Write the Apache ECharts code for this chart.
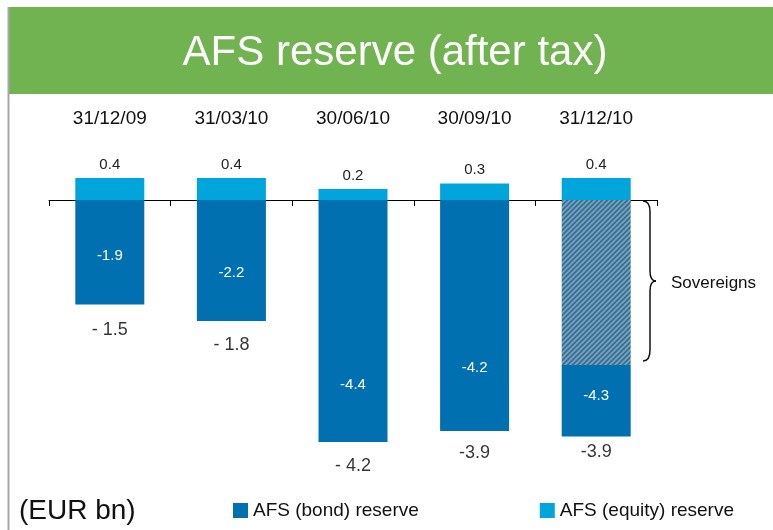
<!DOCTYPE html>
<html>
<head>
<meta charset="utf-8">
<title>AFS reserve (after tax)</title>
<script src="https://cdn.jsdelivr.net/npm/echarts@6/dist/echarts.min.js"></script>
<style>
  html, body { margin: 0; padding: 0; background: #fff; }
  #main { width: 773px; height: 530px; }
</style>
</head>
<body>
<div id="main"></div>
<script>
// values (EUR bn)
var categories = ['31/12/09', '31/03/10', '30/06/10', '30/09/10', '31/12/10'];
var equityReserve = [0.4, 0.4, 0.2, 0.3, 0.4];
var bondReserve = [-1.9, -2.2, -4.4, -4.2, -4.3];
var sovereignPart = [null, null, null, null, -3.0];
var netLabels = ['- 1.5', '- 1.8', '- 4.2', '-3.9', '-3.9'];

// label fine tuning (px), not data
var bondLabelShift = [4, 12, 64, 52, -5];
var netLabelGap = [17, 15, 15, 13, 7];

var FONT = 'Liberation Sans';
var BOND = '#0070B0';
var EQUITY = '#00A6DB';

// hatch for the sovereign part
function hatch() {
  var c = document.createElement('canvas');
  c.width = 5; c.height = 5;
  var ctx = c.getContext('2d');
  ctx.fillStyle = '#1a78b4';
  ctx.fillRect(0, 0, 5, 5);
  ctx.strokeStyle = '#9a9a9a';
  ctx.lineWidth = 1.6;
  ctx.beginPath();
  ctx.moveTo(0, 5); ctx.lineTo(5, 0);
  ctx.moveTo(-1, 1); ctx.lineTo(1, -1);
  ctx.moveTo(4, 6); ctx.lineTo(6, 4);
  ctx.stroke();
  return c;
}

// bond bar drawn below the sovereign slice where there is one
var bondRest = bondReserve.map(function (v, i) {
  return sovereignPart[i] == null ? v : +(v - sovereignPart[i]).toFixed(2);
});

// curly brace next to the last bar
var braceStyle = { stroke: '#111', lineWidth: 1.5, fill: null };
var brace = [
  { type: 'bezierCurve', shape: { x1: 643, y1: 201, cpx1: 650, cpy1: 201, x2: 650, y2: 212 } },
  { type: 'line', shape: { x1: 650, y1: 212, x2: 650, y2: 271 } },
  { type: 'bezierCurve', shape: { x1: 650, y1: 271, cpx1: 650, cpy1: 281, x2: 656, y2: 281 } },
  { type: 'bezierCurve', shape: { x1: 656, y1: 281, cpx1: 650, cpy1: 281, x2: 650, y2: 291 } },
  { type: 'line', shape: { x1: 650, y1: 291, x2: 650, y2: 350 } },
  { type: 'bezierCurve', shape: { x1: 650, y1: 350, cpx1: 650, cpy1: 361, x2: 643, y2: 361 } }
].map(function (el) { el.style = braceStyle; el.silent = true; return el; });

var chart = echarts.init(document.getElementById('main'));

var option = {
  animation: false,
  textStyle: { fontFamily: FONT },
  graphic: [
    { type: 'rect', shape: { x: 9, y: 7, width: 764, height: 87 }, style: { fill: '#72B351' }, silent: true },
    { type: 'line', shape: { x1: 8.5, y1: 7, x2: 8.5, y2: 530 }, style: { stroke: '#a8a8a8', lineWidth: 2 }, silent: true },
    { type: 'text', x: 395, y: 53, style: { text: 'AFS reserve (after tax)', fill: '#fff', font: '42px "Liberation Sans"', align: 'center', verticalAlign: 'middle' } },
    { type: 'text', x: 19, y: 511, style: { text: '(EUR bn)', fill: '#111', font: '28px "Liberation Sans"', align: 'left', verticalAlign: 'middle' } },
    { type: 'text', x: 671, y: 283, style: { text: 'Sovereigns', fill: '#111', font: '17px "Liberation Sans"', verticalAlign: 'middle' } }
  ].concat(brace),
  legend: {
    data: ['AFS (bond) reserve', 'AFS (equity) reserve'],
    left: 228,
    top: 496,
    icon: 'rect',
    itemWidth: 15,
    itemHeight: 15,
    itemGap: 121,
    textStyle: { fontSize: 19, color: '#111', fontFamily: FONT }
  },
  grid: { left: 49, right: 116, top: 134, bottom: 55 },
  xAxis: [
    {
      type: 'category',
      data: categories,
      position: 'bottom',
      axisLine: { onZero: true, lineStyle: { color: '#000', width: 1 } },
      axisTick: { show: true, length: 6, lineStyle: { color: '#000' } },
      axisLabel: { show: false }
    },
    {
      type: 'category',
      data: categories,
      position: 'top',
      axisLine: { show: false },
      axisTick: { show: false },
      axisLabel: { fontSize: 19, color: '#111', margin: 6 }
    }
  ],
  yAxis: { type: 'value', min: -5, max: 1.2, show: false, splitLine: { show: false } },
  series: [
    {
      name: 'AFS (equity) reserve',
      type: 'bar',
      stack: 'afs',
      barWidth: 69,
      data: equityReserve,
      itemStyle: { color: EQUITY },
      label: { show: true, position: 'top', distance: 6, fontSize: 15, color: '#222' }
    },
    {
      name: 'Sovereigns',
      type: 'bar',
      stack: 'afs',
      barWidth: 69,
      data: sovereignPart,
      itemStyle: { color: { image: hatch(), repeat: 'repeat' } }
    },
    {
      name: 'AFS (bond) reserve',
      type: 'bar',
      stack: 'afs',
      barWidth: 69,
      data: bondRest.map(function (v, i) {
        return { value: v, label: { offset: [0, bondLabelShift[i]] } };
      }),
      itemStyle: { color: BOND },
      label: {
        show: true, position: 'inside', fontSize: 15, color: '#fff',
        formatter: function (p) { return bondReserve[p.dataIndex].toFixed(1); }
      }
    },
    {
      name: 'net',
      type: 'scatter',
      symbolSize: 0,
      data: bondReserve.map(function (v, i) {
        return { value: v, label: { distance: netLabelGap[i] } };
      }),
      label: {
        show: true, position: 'bottom', fontSize: 18, color: '#000',
        formatter: function (p) { return netLabels[p.dataIndex]; }
      },
      silent: true
    }
  ]
};

chart.setOption(option);
</script>
</body>
</html>
